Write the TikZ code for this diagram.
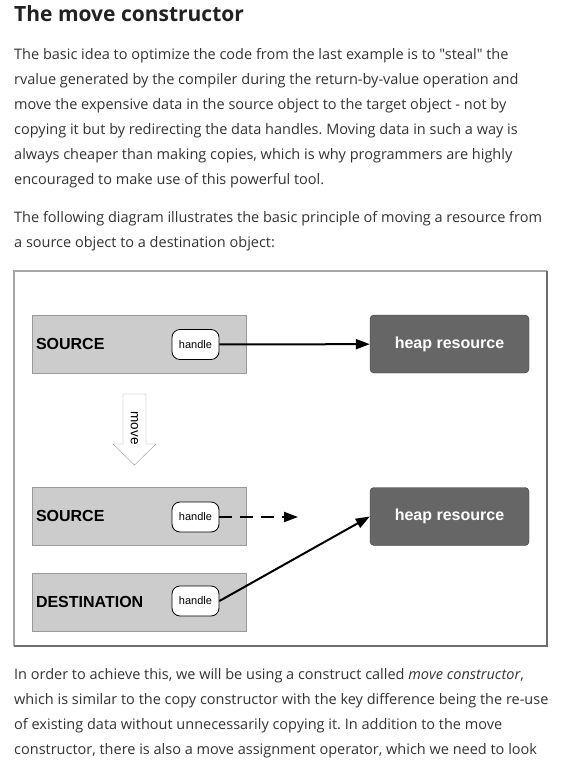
\documentclass[tikz,border=0pt]{standalone}
\usepackage{fontspec}
\setmainfont{Open Sans}[Ligatures=TeXOff]
\newfontfamily\diafont{Liberation Sans}
\usetikzlibrary{arrows.meta}
\definecolor{txt}{HTML}{333333}
\definecolor{headtxt}{HTML}{222222}
\definecolor{objgray}{HTML}{CCCCCC}
\definecolor{boxline}{HTML}{999999}
\definecolor{heapgray}{HTML}{666666}
\definecolor{heapline}{HTML}{3A3A3A}
\definecolor{framelight}{HTML}{A6A6A6}
\definecolor{framedark}{HTML}{6E6E6E}
\frenchspacing

\begin{document}
\begin{tikzpicture}[x=1pt,y=-1pt,
  para/.style={anchor=base west,inner sep=0,text=txt,font=\fontsize{14.5}{18}\selectfont},
  objbox/.style={draw=boxline,fill=objgray,minimum width=214pt,minimum height=58pt,text width=206pt,inner xsep=4pt,align=left,font=\diafont\bfseries\fontsize{16}{19}\selectfont},
  handlebox/.style={draw,fill=white,line width=0.8pt,rounded corners=8pt,minimum width=47pt,minimum height=30pt,inner sep=0pt,font=\diafont\fontsize{11}{13}\selectfont},
  heapbox/.style={draw=heapline,fill=heapgray,rounded corners=4pt,minimum width=159pt,minimum height=58pt,text=white,font=\diafont\bfseries\fontsize{16}{19}\selectfont},
  ptr/.style={line width=2pt,-{Triangle[length=14pt,width=10pt]}}]
\useasboundingbox[fill=white] (0,0) rectangle (562,766);
% heading and text above the diagram
\node[anchor=base west,inner sep=0,text=headtxt,font=\bfseries\fontsize{21}{25}\selectfont] (title) at (14,21) {The move constructor};
\foreach \t [count=\i from 0] in {{The basic idea to optimize the code from the last example is to "steal" the},
  {rvalue generated by the compiler during the return-by-value operation and},
  {move the expensive data in the source object to the target object - not by},
  {copying it but by redirecting the data handles. Moving data in such a way is},
  {always cheaper than making copies, which is why programmers are highly},
  {encouraged to make use of this powerful tool.}}
  \node[para] (pa-\i) at (14,59+25*\i) {\t};
\foreach \t [count=\i from 0] in {{The following diagram illustrates the basic principle of moving a resource from},
  {a source object to a destination object:}}
  \node[para] (pb-\i) at (14,222.5+25*\i) {\t};

% the diagram
\draw[framelight,line width=1.3pt] (14,646) -- (14,271) -- (547,271);
\draw[framedark,line width=1.3pt] (547,271) -- (547,646) -- (14,646);
\node[objbox] (src) at (139,344) {SOURCE};
\node[handlebox] (srchandle) at (195.5,344.5) {handle};
\node[heapbox] (heap) at (449.5,344) {heap resource};
\draw[ptr] (srchandle) -- (heap);

% move arrow
\draw[boxline,fill=white] (123,394) -- (146,394) -- (146,444) -- (156,444) -- (134.5,465)
  -- (113,444) -- (123,444) -- cycle;
\node[rotate=-90,inner sep=0,font=\diafont\fontsize{13.5}{16}\selectfont] (move) at (134.5,428) {move};

\node[objbox] (src2) at (139,516) {SOURCE};
\node[handlebox] (src2handle) at (195.5,517) {handle};
\node[heapbox] (heap2) at (449.5,516.5) {heap resource};
\coordinate (old) at (298,517);
\draw[ptr,dash pattern=on 13pt off 8pt] (src2handle) -- (old);

\node[objbox] (dst) at (139,602) {DESTINATION};
\node[handlebox] (dsthandle) at (195.5,601) {handle};
\draw[ptr] (dsthandle.east) -- (heap2.west);

% text below the diagram
\foreach \t [count=\i from 0] in {{In order to achieve this, we will be using a construct called \textit{move constructor},},
  {which is similar to the copy constructor with the key difference being the re-use},
  {of existing data without unnecessarily copying it. In addition to the move},
  {constructor, there is also a move assignment operator, which we need to look}}
  \node[para] (pc-\i) at (14,679+25*\i) {\t};
\end{tikzpicture}
\end{document}
